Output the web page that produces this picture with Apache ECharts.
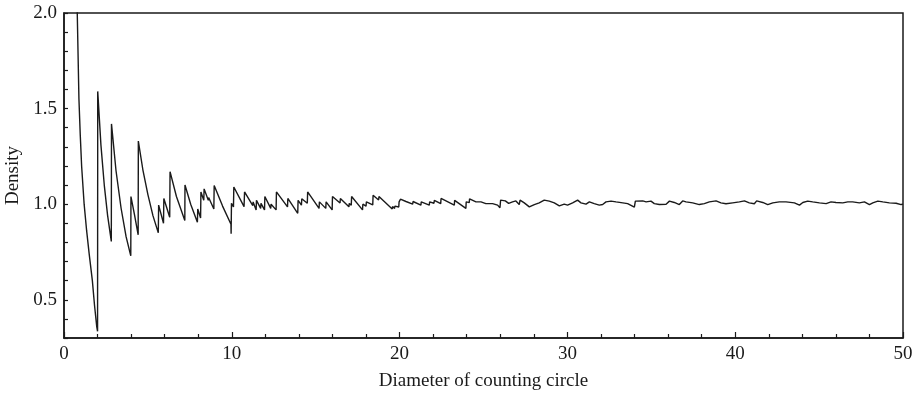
<!DOCTYPE html>
<html>
<head>
<meta charset="utf-8">
<script src="https://cdn.jsdelivr.net/npm/echarts@6/dist/echarts.min.js"></script>
<style>
  html, body { margin: 0; padding: 0; background: #fff; }
  #chart { width: 917px; height: 397px; }
</style>
</head>
<body>
<div id="chart"></div>
<script>
// Density of counted points versus diameter of the counting circle, as [diameter, density]
const sweepOpening = [
  [0.70, 2.40], [0.79, 2.00], [0.89, 1.55], [0.97, 1.36], [1.05, 1.20], [1.20, 1.00],
  [1.35, 0.86], [1.50, 0.74], [1.69, 0.60], [1.82, 0.47], [1.95, 0.36], [2.00, 0.335],
  [2.01, 1.59], [2.20, 1.31], [2.40, 1.10], [2.60, 0.94], [2.82, 0.805],
  [2.83, 1.42], [3.10, 1.175], [3.40, 0.98], [3.70, 0.83], [3.98, 0.73],
  [3.99, 1.04], [4.20, 0.945], [4.42, 0.84],
  [4.43, 1.33], [4.70, 1.18], [5.00, 1.05], [5.30, 0.94], [5.62, 0.85],
  [5.64, 0.995], [5.93, 0.90],
  [5.95, 1.03], [6.30, 0.932],
  [6.32, 1.17], [6.70, 1.04], [7.20, 0.915],
  [7.21, 1.10], [7.55, 1.00], [7.95, 0.905],
  [7.97, 0.975], [8.14, 0.928],
  [8.16, 1.064], [8.33, 1.02],
  [8.35, 1.08], [8.60, 1.02],
  [8.62, 1.035], [8.93, 0.975],
  [8.95, 1.098], [9.45, 0.99], [9.95, 0.895], [9.96, 0.845],
  [9.98, 1.005], [10.10, 0.985]
];

const sweepMiddle = [
  [10.12, 1.09], [10.73, 0.987],
  [10.76, 1.064], [11.25, 0.993],
  [11.27, 1.012], [11.45, 0.97],
  [11.47, 1.02], [11.72, 0.978],
  [11.74, 1.004], [11.95, 0.97],
  [11.97, 1.04], [12.32, 0.978],
  [12.34, 1.00], [12.64, 0.97],
  [12.66, 1.064], [13.32, 0.986],
  [13.34, 1.03], [13.93, 0.952],
  [13.95, 1.02], [14.15, 0.995],
  [14.17, 1.028], [14.50, 1.005],
  [14.52, 1.064], [15.20, 0.978],
  [15.22, 1.012], [15.60, 0.978],
  [15.62, 1.012], [15.98, 0.97],
  [16.00, 1.04], [16.45, 1.006],
  [16.47, 1.03], [16.98, 0.986],
  [17.00, 1.004], [17.12, 0.995],
  [17.14, 1.04], [17.79, 0.97],
  [17.81, 1.00], [18.00, 0.99],
  [18.02, 1.012], [18.40, 0.996],
  [18.42, 1.047], [18.75, 1.022],
  [18.77, 1.04], [19.56, 0.975],
  [19.58, 0.988], [19.70, 0.978],
  [19.72, 0.99], [19.95, 0.985],
  [19.97, 1.012]
];

const sweepFar = [
  [20.05, 1.026], [20.38, 1.014], [20.40, 1.02], [20.78, 1.00], [20.80, 1.014],
  [21.27, 0.995], [21.29, 1.012], [21.77, 0.995], [21.79, 1.012], [22.05, 1.005],
  [22.07, 1.02], [22.45, 1.003], [22.47, 1.03], [23.26, 0.995], [23.28, 1.02],
  [23.95, 0.978], [23.97, 1.012], [24.15, 1.008], [24.17, 1.028], [24.55, 1.012],
  [24.85, 1.012], [25.14, 1.003], [25.54, 1.003], [25.84, 0.995], [25.98, 0.981],
  [26.02, 1.021], [26.30, 1.017], [26.50, 1.004], [26.73, 1.012], [26.93, 1.017],
  [27.13, 0.998], [27.18, 1.021], [27.43, 1.007], [27.73, 0.986], [28.03, 0.998],
  [28.32, 1.007], [28.62, 1.021], [28.92, 1.016], [29.22, 1.007], [29.52, 0.991],
  [29.81, 1.00], [30.01, 0.995], [30.31, 1.007], [30.61, 1.021], [30.81, 1.007],
  [31.11, 1.00], [31.31, 1.012], [31.60, 1.003], [31.90, 0.995], [32.10, 0.998],
  [32.30, 1.012], [32.60, 1.016], [32.90, 1.012], [33.30, 1.007], [33.59, 1.003],
  [33.99, 0.984], [34.05, 1.016], [34.49, 1.017], [34.69, 1.012], [34.98, 1.016],
  [35.18, 1.003], [35.48, 0.998], [35.88, 1.00], [36.08, 1.016], [36.37, 1.009]
];

const sweepTail = [
  [36.67, 0.998], [36.87, 1.017], [37.07, 1.012], [37.47, 1.007], [37.86, 0.998],
  [38.16, 1.003], [38.46, 1.012], [38.86, 1.017], [39.15, 1.007], [39.45, 1.002],
  [39.85, 1.007], [40.25, 1.012], [40.55, 1.017], [40.84, 1.007], [41.14, 1.002],
  [41.28, 1.017], [41.64, 1.009], [41.94, 0.998], [42.24, 1.007], [42.63, 1.012],
  [43.03, 1.012], [43.53, 1.007], [43.83, 0.995], [44.03, 1.009], [44.32, 1.016],
  [44.62, 1.012], [45.02, 1.007], [45.42, 1.003], [45.71, 1.012], [46.01, 1.009],
  [46.41, 1.007], [46.71, 1.012], [47.00, 1.012], [47.40, 1.007], [47.70, 1.012],
  [48.00, 0.998], [48.20, 1.007], [48.50, 1.016], [48.80, 1.012], [49.19, 1.007],
  [49.59, 1.005], [49.89, 0.998], [50.00, 1.00]
];

const xTickLabels = [0, 10, 20, 30, 40, 50];
const yTickLabels = [0.5, 1.0, 1.5, 2.0];

const densityCurve = sweepOpening.concat(sweepMiddle, sweepFar, sweepTail);

const ink = '#1a1a1a';
const serif = '"Liberation Serif", "DejaVu Serif", serif';

const chart = echarts.init(document.getElementById('chart'), null, { renderer: 'canvas' });

chart.setOption({
  animation: false,
  backgroundColor: '#ffffff',
  grid: {
    left: 64, right: 14, top: 13, bottom: 59,
    outerBoundsMode: 'none',
    containLabel: false,
    show: true, borderColor: ink, borderWidth: 1.5, backgroundColor: 'transparent'
  },
  xAxis: {
    type: 'value',
    min: 0, max: 50, interval: 10,
    name: 'Diameter of counting circle',
    nameLocation: 'middle',
    nameGap: 34,
    nameTextStyle: { fontFamily: serif, fontSize: 19, color: ink },
    axisLine: { show: true, lineStyle: { color: ink, width: 1.5 } },
    axisTick: { show: true, inside: true, length: 6, lineStyle: { color: ink, width: 1.2 } },
    minorTick: { show: true, splitNumber: 5, length: 4, lineStyle: { color: ink, width: 1.2 } },
    axisLabel: {
      customValues: xTickLabels,
      fontFamily: serif, fontSize: 19, color: ink, margin: 7,
      formatter: v => String(v)
    },
    splitLine: { show: false }
  },
  yAxis: {
    type: 'value',
    min: 0.3, max: 2.0, interval: 0.1,
    name: 'Density',
    nameLocation: 'middle',
    nameGap: 36,
    nameRotate: 90,
    nameTextStyle: { fontFamily: serif, fontSize: 19, color: ink },
    axisLine: { show: true, lineStyle: { color: ink, width: 1.5 } },
    axisTick: { show: true, inside: true, length: 4, lineStyle: { color: ink, width: 1.2 } },
    axisLabel: {
      customValues: yTickLabels,
      fontFamily: serif, fontSize: 19, color: ink, margin: 7,
      formatter: v => v.toFixed(1)
    },
    splitLine: { show: false }
  },
  series: [{
    type: 'line',
    data: densityCurve,
    showSymbol: false,
    clip: true,
    lineStyle: { color: ink, width: 1.4 },
    silent: true
  }]
});
</script>
</body>
</html>
